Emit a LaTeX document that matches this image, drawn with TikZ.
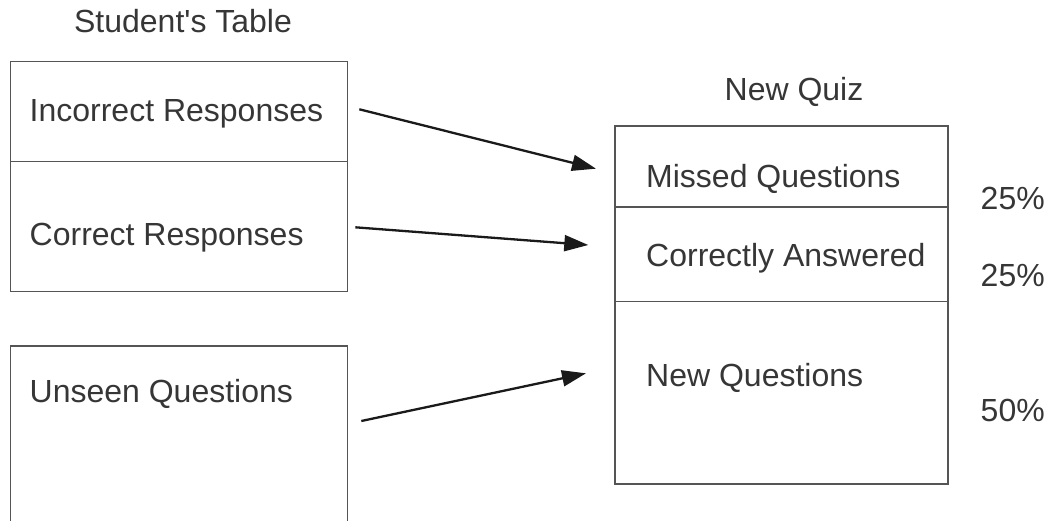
\documentclass[tikz,border=0pt]{standalone}
\usepackage{fontspec}
\setmainfont{Liberation Sans}
\usetikzlibrary{arrows.meta}
\definecolor{txt}{HTML}{363636}
\definecolor{boxline}{HTML}{555555}
\definecolor{arr}{HTML}{1A1A1A}
\tikzset{
  cell/.style={draw=boxline, line width=1.3pt, rectangle, inner sep=0pt, anchor=north west},
  lbl/.style={text=txt, font=\fontsize{32}{37}\selectfont, inner sep=0pt, anchor=base west},
  ttl/.style={text=txt, font=\fontsize{32}{37}\selectfont, inner sep=0pt, anchor=base},
  flow/.style={draw=arr, line width=2.3pt, -{Triangle[length=24pt,width=16pt]}}
}
\begin{document}
\begin{tikzpicture}[x=1pt,y=-1pt]
\useasboundingbox (0,0) rectangle (1051,520);
\clip (0,0) rectangle (1051,520);
% left table
\node[cell, minimum width=337pt, minimum height=100pt] (inc) at (10,60.7) {};
\node[cell, minimum width=337pt, minimum height=130pt] (cor) at (10,160.7) {};
\node[cell, minimum width=337pt, minimum height=200pt] (uns) at (10,345.3) {};
% right table
\node[cell, minimum width=333pt, minimum height=81pt] (mis) at (614.3,125.3) {};
\node[cell, minimum width=333pt, minimum height=94.4pt] (cans) at (614.3,206.3) {};
\node[cell, minimum width=333pt, minimum height=182.6pt] (newq) at (614.3,300.7) {};
% titles
\node[ttl] (st) at (183,32) {Student\textquotesingle s Table};
\node[ttl] (nq) at (794,100) {New Quiz};
% labels
\node[lbl] (tinc) at (29.5,121.7) {Incorrect Responses};
\node[lbl] (tcor) at (29.5,245) {Correct Responses};
\node[lbl] (tuns) at (29.5,402.7) {Unseen Questions};
\node[lbl] (tmis) at (646,187.3) {Missed Questions};
\node[lbl] (tcans) at (646,266) {Correctly Answered};
\node[lbl] (tnewq) at (646,386) {New Questions};
\node[lbl] (p1) at (980.5,209.3) {25\%};
\node[lbl] (p2) at (980.5,286) {25\%};
\node[lbl] (p3) at (980.5,421.7) {50\%};
% arrow end points
\coordinate (a1s) at (359.3,109.3);
\coordinate (a1e) at (596,168.7);
\coordinate (a2s) at (355.3,227.3);
\coordinate (a2e) at (588.3,245);
\coordinate (a3s) at (361.3,421);
\coordinate (a3e) at (586,373.3);
\draw[flow] (a1s) -- (a1e);
\draw[flow] (a2s) -- (a2e);
\draw[flow] (a3s) -- (a3e);
\end{tikzpicture}
\end{document}
